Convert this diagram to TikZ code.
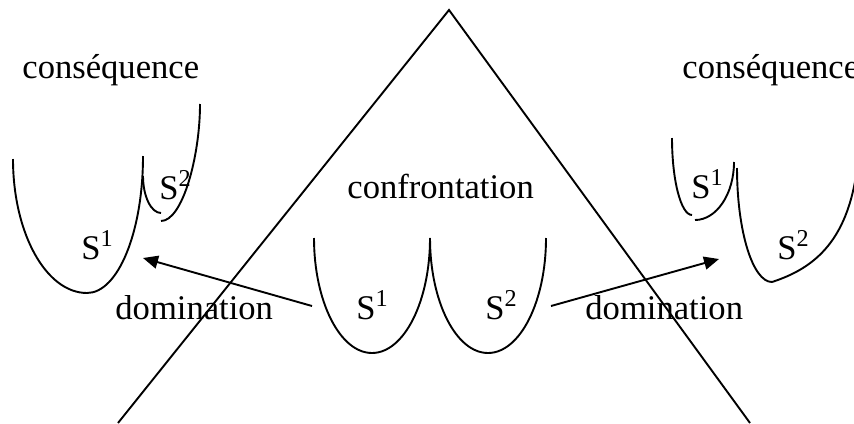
\documentclass[tikz,border=0pt]{standalone}
\usepackage{fontspec}
\setmainfont{Liberation Serif}
\usetikzlibrary{arrows.meta}
\begin{document}
\begin{tikzpicture}[x=0.5pt,y=-0.5pt,
  lbl/.style={inner sep=0pt,anchor=base west,font=\fontsize{17.3}{20}\selectfont},
  cup/.style={line width=0.95pt},
  arr/.style={line width=0.95pt,-{Triangle[length=7.5pt,width=6.5pt]}}]
\useasboundingbox (0,0) rectangle (854,423);
\clip (0,0) rectangle (854,423);
% triangle
\coordinate (apex) at (449,10);
\coordinate (bl) at (118,423);
\coordinate (br) at (750,423);
\draw[cup] (bl) -- (apex) -- (br);
% central cups
\draw[cup] (314,238) .. controls (314,301.5) and (340,353) .. (372,353)
  .. controls (404,353) and (430,301.5) .. (430,238);
\draw[cup] (430,238) .. controls (430,301.5) and (456,353) .. (488,353)
  .. controls (520,353) and (546,301.5) .. (546,238);
% left consequence cups
\draw[cup] (13,159) .. controls (13,233) and (46,293) .. (87,293)
  .. controls (118,293) and (143,232) .. (143,156);
\draw[cup] (143,176) .. controls (143,196) and (151,213) .. (161,213);
\draw[cup] (161,221) .. controls (182.5,221) and (200,156.4) .. (200,104);
% right consequence cups
\draw[cup] (672,138) .. controls (672,180.5) and (681,215) .. (692,215);
\draw[cup] (695,220) .. controls (716.5,220) and (734,194) .. (734,162);
\draw[cup] (737,168) .. controls (737,231) and (752.7,282) .. (772,282);
\draw[cup] (772,282) .. controls (815,268) and (850,240) .. (858,160);
% texts
\node[lbl] (csqL) at (22,78) {conséquence};
\node[lbl] (csqR) at (682,78) {conséquence};
\node[lbl] (conf) at (347,198) {confrontation};
\node[lbl] (domL) at (115,319) {domination};
\node[lbl] (domR) at (585,319) {domination};
\node[lbl] (cS1) at (356,319) {S\textsuperscript{1}};
\node[lbl] (cS2) at (485,319) {S\textsuperscript{2}};
\node[lbl] (lS1) at (81,259) {S\textsuperscript{1}};
\node[lbl] (lS2) at (159,199) {S\textsuperscript{2}};
\node[lbl] (rS1) at (691,198) {S\textsuperscript{1}};
\node[lbl] (rS2) at (777,259) {S\textsuperscript{2}};
% arrows
\coordinate (aLs) at (312,306);
\coordinate (aLe) at (143,258);
\coordinate (aRs) at (551,306);
\coordinate (aRe) at (719,259);
\draw[arr] (aLs) -- (aLe);
\draw[arr] (aRs) -- (aRe);
\end{tikzpicture}
\end{document}
